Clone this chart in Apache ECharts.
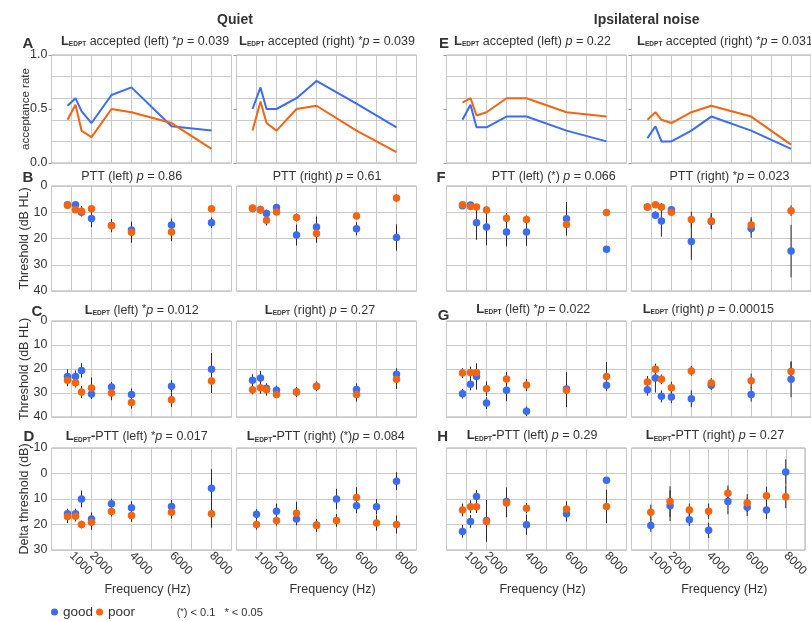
<!DOCTYPE html>
<html><head><meta charset="utf-8">
<script src="https://cdn.jsdelivr.net/npm/echarts@6/dist/echarts.min.js"></script>
<style>html,body{margin:0;padding:0;background:#fff}#c{width:811px;height:621px}</style>
</head><body><div id="c"></div><script>
// ---------- data ----------
const freqL = [800, 1200, 1500, 2000, 3000, 4000, 6000, 8000];
const freqD = [1000, 2000, 3000, 4000, 5000, 6000, 7000, 8000];
const xTickLabels = [1000, 2000, 4000, 6000, 8000];
const accTickLabels = ['0.0', '0.5', '1.0'];

// Row A: acceptance rate
const accQuietLeftGood  = [0.53, 0.60, 0.48, 0.37, 0.63, 0.70, 0.34, 0.30];
const accQuietLeftPoor  = [0.40, 0.54, 0.30, 0.24, 0.50, 0.47, 0.37, 0.13];
const accQuietRightGood = [0.50, 0.70, 0.50, 0.50, 0.60, 0.76, 0.55, 0.33];
const accQuietRightPoor = [0.30, 0.57, 0.37, 0.30, 0.50, 0.53, 0.30, 0.10];
const accNoiseLeftGood  = [0.40, 0.54, 0.33, 0.33, 0.43, 0.43, 0.30, 0.20];
const accNoiseLeftPoor  = [0.56, 0.60, 0.44, 0.47, 0.60, 0.60, 0.47, 0.43];
const accNoiseRightGood = [0.23, 0.34, 0.20, 0.20, 0.30, 0.43, 0.30, 0.13];
const accNoiseRightPoor = [0.40, 0.47, 0.40, 0.37, 0.47, 0.53, 0.43, 0.17];

// Row B: PTT threshold
const pttQuietLeftGood     = [7.1, 7.1, 10.0, 12.4, 15.0, 16.8, 14.9, 14.0];
const pttQuietLeftGoodErr  = [0.8, 0.8, 1.5, 3.3, 1.5, 3.0, 2.5, 2.0];
const pttQuietLeftPoor     = [7.3, 9.0, 9.6, 8.7, 15.1, 17.6, 17.5, 8.7];
const pttQuietLeftPoorErr  = [0.8, 1.2, 2.0, 1.5, 2.5, 4.0, 3.5, 1.0];
const pttQuietRightGood    = [8.6, 9.0, 10.5, 8.2, 18.7, 15.6, 16.3, 19.6];
const pttQuietRightGoodErr = [1.0, 1.0, 1.5, 1.0, 4.0, 4.0, 2.5, 5.0];
const pttQuietRightPoor    = [8.4, 9.0, 13.0, 9.9, 12.0, 18.1, 11.4, 4.6];
const pttQuietRightPoorErr = [1.0, 1.5, 2.0, 1.0, 1.5, 3.5, 1.0, 1.5];
const pttNoiseLeftGood     = [7.5, 7.2, 14.0, 15.6, 17.5, 17.5, 12.5, 24.1];
const pttNoiseLeftGoodErr  = [1.0, 1.0, 6.5, 7.0, 5.5, 5.3, 6.4, 0.5];
const pttNoiseLeftPoor     = [7.1, 7.8, 8.0, 9.1, 12.3, 12.8, 14.7, 10.1];
const pttNoiseLeftPoorErr  = [1.0, 1.0, 1.0, 1.5, 2.0, 1.5, 3.0, 1.0];
const pttNoiseRightGood    = [8.0, 11.1, 13.3, 9.0, 21.1, 13.5, 16.2, 24.8];
const pttNoiseRightGoodErr = [1.0, 1.5, 6.0, 1.0, 7.0, 3.0, 3.5, 10.0];
const pttNoiseRightPoor    = [8.0, 7.1, 8.0, 10.0, 12.8, 13.3, 14.9, 9.4];
const pttNoiseRightPoorErr = [1.0, 1.0, 1.5, 1.0, 3.0, 3.0, 3.0, 2.0];

// Row C: LEDPT threshold
const edpQuietLeftGood     = [23.1, 23.1, 20.6, 30.4, 27.5, 30.6, 27.2, 20.1];
const edpQuietLeftGoodErr  = [3.0, 2.5, 3.0, 2.0, 2.0, 2.5, 2.5, 6.8];
const edpQuietLeftPoor     = [24.7, 25.7, 29.6, 27.9, 30.0, 34.0, 32.8, 25.0];
const edpQuietLeftPoorErr  = [2.5, 2.0, 2.5, 4.4, 3.0, 2.5, 3.0, 5.0];
const edpQuietRightGood    = [24.7, 23.8, 28.0, 28.9, 29.6, 27.2, 28.5, 22.2];
const edpQuietRightGoodErr = [2.5, 3.0, 2.0, 2.0, 2.0, 2.0, 2.5, 2.5];
const edpQuietRightPoor    = [28.6, 27.8, 28.6, 30.6, 29.6, 27.2, 30.6, 24.3];
const edpQuietRightPoorErr = [2.0, 2.5, 2.5, 1.5, 2.0, 1.5, 3.0, 4.0];
const edpNoiseLeftGood     = [30.3, 26.4, 23.1, 34.2, 28.9, 37.6, 28.3, 26.8];
const edpNoiseLeftGoodErr  = [2.0, 2.5, 5.5, 2.5, 4.5, 2.0, 7.0, 2.0];
const edpNoiseLeftPoor     = [21.7, 21.5, 21.5, 28.2, 24.2, 26.7, 28.9, 23.1];
const edpNoiseLeftPoorErr  = [2.0, 2.5, 2.0, 3.0, 3.0, 2.5, 7.0, 6.0];
const edpNoiseRightGood    = [28.6, 23.8, 31.4, 31.7, 32.4, 26.8, 30.6, 24.3];
const edpNoiseRightGoodErr = [2.5, 6.0, 2.5, 2.5, 3.5, 2.0, 3.0, 7.5];
const edpNoiseRightPoor    = [25.4, 20.1, 24.3, 27.8, 20.8, 25.8, 24.9, 21.0];
const edpNoiseRightPoorErr = [2.5, 2.0, 2.0, 2.5, 2.0, 2.0, 3.0, 4.0];

// Row D: LEDPT - PTT delta threshold
const delQuietLeftGood     = [15.8, 15.8, 10.0, 17.8, 11.9, 13.4, 12.9, 5.8];
const delQuietLeftGoodErr  = [2.0, 2.0, 3.3, 2.5, 2.0, 2.5, 2.5, 7.5];
const delQuietLeftPoor     = [16.9, 16.8, 20.0, 19.1, 14.9, 16.5, 15.2, 15.8];
const delQuietLeftPoorErr  = [2.5, 2.0, 1.5, 3.0, 2.0, 2.5, 2.5, 5.5];
const delQuietRightGood    = [16.0, 14.8, 17.8, 20.2, 10.0, 12.6, 13.0, 3.0];
const delQuietRightGoodErr = [2.0, 3.0, 2.5, 2.0, 4.0, 3.0, 3.0, 3.5];
const delQuietRightPoor    = [20.0, 18.4, 15.6, 20.4, 18.4, 9.4, 19.4, 20.0];
const delQuietRightPoorErr = [2.0, 2.0, 4.5, 2.5, 2.5, 4.0, 3.0, 3.5];
const delNoiseLeftGood     = [22.7, 18.8, 9.0, 18.4, 11.0, 20.1, 15.8, 2.6];
const delNoiseLeftGoodErr  = [2.5, 2.5, 2.5, 8.0, 5.5, 4.0, 3.0, 1.0];
const delNoiseLeftPoor     = [14.3, 13.0, 13.0, 18.8, 11.6, 13.6, 13.9, 12.9];
const delNoiseLeftPoorErr  = [2.5, 2.5, 2.5, 8.0, 5.5, 2.0, 3.0, 6.5];
const delNoiseRightGood    = [20.4, 12.6, 18.1, 22.3, 11.0, 13.2, 14.3, -0.6];
const delNoiseRightGoodErr = [2.5, 6.0, 2.5, 3.0, 5.0, 3.5, 3.5, 5.0];
const delNoiseRightPoor    = [15.2, 11.0, 14.3, 14.8, 7.7, 11.6, 8.7, 9.1];
const delNoiseRightPoorErr = [3.0, 6.0, 2.5, 3.0, 3.0, 3.5, 3.5, 4.5];

// ---------- layout / style ----------
const FONT = '"Liberation Sans", Arial, sans-serif';
const COLOR_GOOD = '#3b6cf2';
const COLOR_POOR = '#f5640f';
const TXT = '#333';
const colX = [51.5, 236.5, 446.5, 631.5];
const colW = 180;
const rowY = [55, 186, 321, 448];
const rowH = [108, 105, 96, 102];

const panels = [
  {r:0,c:0,x:freqL,g:accQuietLeftGood,p:accQuietLeftPoor},
  {r:0,c:1,x:freqL,g:accQuietRightGood,p:accQuietRightPoor},
  {r:0,c:2,x:freqL,g:accNoiseLeftGood,p:accNoiseLeftPoor},
  {r:0,c:3,x:freqL,g:accNoiseRightGood,p:accNoiseRightPoor},
  {r:1,c:0,x:freqL,g:pttQuietLeftGood,ge:pttQuietLeftGoodErr,p:pttQuietLeftPoor,pe:pttQuietLeftPoorErr},
  {r:1,c:1,x:freqL,g:pttQuietRightGood,ge:pttQuietRightGoodErr,p:pttQuietRightPoor,pe:pttQuietRightPoorErr},
  {r:1,c:2,x:freqL,g:pttNoiseLeftGood,ge:pttNoiseLeftGoodErr,p:pttNoiseLeftPoor,pe:pttNoiseLeftPoorErr},
  {r:1,c:3,x:freqL,g:pttNoiseRightGood,ge:pttNoiseRightGoodErr,p:pttNoiseRightPoor,pe:pttNoiseRightPoorErr},
  {r:2,c:0,x:freqL,g:edpQuietLeftGood,ge:edpQuietLeftGoodErr,p:edpQuietLeftPoor,pe:edpQuietLeftPoorErr},
  {r:2,c:1,x:freqL,g:edpQuietRightGood,ge:edpQuietRightGoodErr,p:edpQuietRightPoor,pe:edpQuietRightPoorErr},
  {r:2,c:2,x:freqL,g:edpNoiseLeftGood,ge:edpNoiseLeftGoodErr,p:edpNoiseLeftPoor,pe:edpNoiseLeftPoorErr},
  {r:2,c:3,x:freqL,g:edpNoiseRightGood,ge:edpNoiseRightGoodErr,p:edpNoiseRightPoor,pe:edpNoiseRightPoorErr},
  {r:3,c:0,x:freqL,g:delQuietLeftGood,ge:delQuietLeftGoodErr,p:delQuietLeftPoor,pe:delQuietLeftPoorErr},
  {r:3,c:1,x:freqD,g:delQuietRightGood,ge:delQuietRightGoodErr,p:delQuietRightPoor,pe:delQuietRightPoorErr},
  {r:3,c:2,x:freqL,g:delNoiseLeftGood,ge:delNoiseLeftGoodErr,p:delNoiseLeftPoor,pe:delNoiseLeftPoorErr},
  {r:3,c:3,x:freqD,g:delNoiseRightGood,ge:delNoiseRightGoodErr,p:delNoiseRightPoor,pe:delNoiseRightPoorErr}
];

const yNames = ['acceptance rate', 'Threshold (dB HL)', 'Threshold (dB HL)', 'Delta threshold (dB)'];

const grids = [], xAxes = [], yAxes = [], series = [];
const splitStyle = {show:true, lineStyle:{color:'#c9c9c9', width:1}};

panels.forEach((pn, i) => {
  grids.push({left:colX[pn.c], top:rowY[pn.r], width:colW, height:rowH[pn.r],
    show:true, borderColor:'#aaaaaa', borderWidth:1, containLabel:false});
  xAxes.push({type:'value', gridIndex:i, min:0, max:9000, interval:1000,
    axisLine:{show:false}, axisTick:{show:false}, splitLine:splitStyle,
    axisLabel:{show:pn.r===3, rotate:-45, margin:4, fontSize:12, color:TXT,
      formatter:v => xTickLabels.includes(v) ? String(v) : ''},
    name: pn.r===3 ? 'Frequency (Hz)' : '', nameLocation:'middle', nameGap:33, nameMoveOverlap:false,
    nameTextStyle:{fontSize:12.5, color:TXT, padding:[0,0,0,12]}});
  const yBase = {type:'value', gridIndex:i, axisLine:{show:false},
    axisLabel:{show:pn.c===0, fontSize:12.5, color:TXT, margin:4},
    name: pn.c===0 ? yNames[pn.r] : '', nameLocation:'middle', nameRotate:90,
    nameGap: 20, nameMoveOverlap:false,
    nameTextStyle:{fontSize: pn.r===0 ? 11.5 : 12.5, color:TXT}};
  if (pn.r === 0) {
    Object.assign(yBase, {min:0, max:1, interval:0.5, splitLine:{show:false},
      axisTick:{show:true, length:3, lineStyle:{color:'#999'}}});
    yBase.axisLabel.formatter = (v, idx) => accTickLabels[idx] !== undefined ? accTickLabels[idx] : '';
  } else if (pn.r === 3) {
    Object.assign(yBase, {min:-10, max:30, interval:10, inverse:true, splitLine:splitStyle, axisTick:{show:false}});
  } else {
    Object.assign(yBase, {min:0, max:40, interval:10, inverse:true, splitLine:splitStyle, axisTick:{show:false}});
  }
  yAxes.push(yBase);

  if (pn.r === 0) {
    series.push({type:'line', name:'good', xAxisIndex:i, yAxisIndex:i, showSymbol:false, symbol:'none',
      lineStyle:{width:2, color:COLOR_GOOD}, itemStyle:{color:COLOR_GOOD},
      data: pn.x.map((f, k) => [f, pn.g[k]]), z:3});
    series.push({type:'line', name:'poor', xAxisIndex:i, yAxisIndex:i, showSymbol:false, symbol:'none',
      lineStyle:{width:2, color:COLOR_POOR}, itemStyle:{color:COLOR_POOR},
      data: pn.x.map((f, k) => [f, pn.p[k]]), z:3});
  } else {
    const errData = [];
    pn.x.forEach((f, k) => {
      errData.push([f, pn.g[k] - pn.ge[k], pn.g[k] + pn.ge[k]]);
      errData.push([f, pn.p[k] - pn.pe[k], pn.p[k] + pn.pe[k]]);
    });
    series.push({type:'custom', name:'error', xAxisIndex:i, yAxisIndex:i, z:2, silent:true,
      renderItem:(params, api) => {
        const a = api.coord([api.value(0), api.value(1)]);
        const b = api.coord([api.value(0), api.value(2)]);
        return {type:'line', shape:{x1:a[0], y1:a[1], x2:b[0], y2:b[1]},
          style:{stroke:'#2a2a2a', lineWidth:1}};
      },
      encode:{x:0, y:[1,2]}, data:errData});
    series.push({type:'scatter', name:'good', xAxisIndex:i, yAxisIndex:i, symbolSize:7.5, z:3,
      itemStyle:{color:COLOR_GOOD, opacity:1}, data: pn.x.map((f, k) => [f, pn.g[k]])});
    series.push({type:'scatter', name:'poor', xAxisIndex:i, yAxisIndex:i, symbolSize:7.5, z:4,
      itemStyle:{color:COLOR_POOR, opacity:1}, data: pn.x.map((f, k) => [f, pn.p[k]])});
  }
});

// minor grid lines (0.2 step) in row A
for (let c = 0; c < 4; c++) {
  yAxes.push({type:'value', gridIndex:c, min:0, max:1, interval:0.2, position:'left',
    axisLine:{show:false}, axisTick:{show:false}, axisLabel:{show:false}, splitLine:splitStyle});
}

const rich = {
  b:{fontWeight:'bold', fontSize:13, color:TXT, fontFamily:FONT},
  s:{fontWeight:'bold', fontSize:6.5, color:TXT, verticalAlign:'bottom', fontFamily:FONT},
  sup:{fontSize:11, color:TXT, verticalAlign:'top', fontFamily:FONT},
  i:{fontStyle:'italic', fontSize:12.5, color:TXT, fontFamily:FONT}
};
const panelTitles = [
  ['{b|L}{s|EDPT} accepted (left) {sup|*}{i|p} = 0.039', 145, 43],
  ['{b|L}{s|EDPT} accepted (right) {sup|*}{i|p} = 0.039', 327, 43],
  ['{b|L}{s|EDPT} accepted (left) {i|p} = 0.22', 532.5, 43],
  ['{b|L}{s|EDPT} accepted (right) {sup|*}{i|p} = 0.031', 725, 43],
  ['PTT (left) {i|p} = 0.86', 131.7, 178.3],
  ['PTT (right) {i|p} = 0.61', 327, 178.3],
  ['PTT (left) ({sup|*}) {i|p} = 0.066', 553.7, 178],
  ['PTT (right) {sup|*}{i|p} = 0.023', 729.5, 178],
  ['{b|L}{s|EDPT} (left) {sup|*}{i|p} = 0.012', 141.7, 311.7],
  ['{b|L}{s|EDPT} (right) {i|p} = 0.27', 320, 311.7],
  ['{b|L}{s|EDPT} (left) {sup|*}{i|p} = 0.022', 533.3, 311],
  ['{b|L}{s|EDPT} (right) {i|p} = 0.00015', 708.3, 311],
  ['{b|L}{s|EDPT}{b|-}PTT (left) {sup|*}{i|p} = 0.017', 136.7, 438.3],
  ['{b|L}{s|EDPT}{b|-}PTT (right) ({sup|*}){i|p} = 0.084', 325.8, 438.3],
  ['{b|L}{s|EDPT}{b|-}PTT (left) {i|p} = 0.29', 532, 437.3],
  ['{b|L}{s|EDPT}{b|-}PTT (right) {i|p} = 0.27', 715, 437.3]
];
const letters = [['A',28,44],['B',28,178.5],['C',37,312],['D',29,437.5],
                 ['E',444,44],['F',441,178.5],['G',443.7,316.5],['H',442.7,437.5]];

const titles = [];
titles.push({text:'Quiet', left:235, top:13, textAlign:'center', padding:0,
  textStyle:{fontSize:14, fontWeight:'bold', color:TXT, fontFamily:FONT}});
titles.push({text:'Ipsilateral noise', left:646.7, top:13, textAlign:'center', padding:0,
  textStyle:{fontSize:14, fontWeight:'bold', color:TXT, fontFamily:FONT}});
panelTitles.forEach(([t, x, y]) => titles.push({text:t, left:x, top:y - 8, textAlign:'center', padding:0,
  textStyle:{fontSize:12.5, fontWeight:'normal', color:TXT, fontFamily:FONT, rich:rich}}));
letters.forEach(([t, x, y]) => titles.push({text:t, left:x, top:y - 8, textAlign:'center', padding:0,
  textStyle:{fontSize:15, fontWeight:'bold', color:TXT, fontFamily:FONT}}));
titles.push({text:'({sup|*}) < 0.1   * < 0.05', left:176.7, top:607, padding:0,
  textStyle:{fontSize:11, fontWeight:'normal', color:TXT, fontFamily:FONT,
    rich:{sup:{fontSize:9, verticalAlign:'top', color:TXT, fontFamily:FONT}}}});

const chart = echarts.init(document.getElementById('c'), null, {renderer:'canvas'});
chart.setOption({
  animation:false,
  backgroundColor:'#fff',
  textStyle:{fontFamily:FONT},
  title:titles,
  legend:{data:[{name:'good', itemStyle:{color:COLOR_GOOD}}, {name:'poor', itemStyle:{color:COLOR_POOR}}],
    left:51, top:605, icon:'circle', itemWidth:7, itemHeight:7, itemGap:3, padding:0,
    selectedMode:false, textStyle:{fontSize:13.5, color:TXT, fontFamily:FONT}},
  grid:grids, xAxis:xAxes, yAxis:yAxes, series:series
});
</script></body></html>
